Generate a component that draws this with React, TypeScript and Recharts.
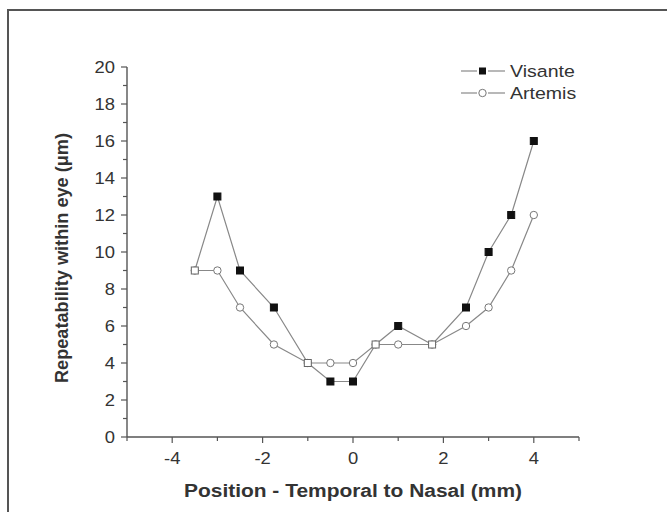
import { LineChart, Line, XAxis, YAxis, Label } from 'recharts';

const positions = [-3.5, -3, -2.5, -1.75, -1, -0.5, 0, 0.5, 1, 1.75, 2.5, 3, 3.5, 4];
const visante = [9, 13, 9, 7, 4, 3, 3, 5, 6, 5, 7, 10, 12, 16];
const artemis = [9, 9, 7, 5, 4, 4, 4, 5, 5, 5, 6, 7, 9, 12];

const xTicks = [-5, -4, -3, -2, -1, 0, 1, 2, 3, 4, 5];
const yTicks = [0, 1, 2, 3, 4, 5, 6, 7, 8, 9, 10, 11, 12, 13, 14, 15, 16, 17, 18, 19, 20];

const data = positions.map((x, i) => ({ x, visante: visante[i], artemis: artemis[i] }));

const FONT = '"Liberation Sans", Arial, sans-serif';
const AXIS = '#555';
const LINE = '#888';
const TEXT = '#333';
// the source figure's lettering is a bit wider than Arial
const STRETCH = 1.15;

const XTick = ({ x, y, payload }: any) => {
  const major = payload.value % 2 === 0;
  return (
    <g>
      <line x1={x} y1={y} x2={x} y2={y + (major ? 6 : 4)} stroke={AXIS} strokeWidth={1.2} />
      {major && (
        <text
          transform={`translate(${x} ${y + 27}) scale(${STRETCH} 1)`}
          textAnchor="middle"
          fontSize={16}
          fill={TEXT}
          fontFamily={FONT}
        >
          {payload.value}
        </text>
      )}
    </g>
  );
};

const YTick = ({ x, y, payload }: any) => {
  const major = payload.value % 2 === 0;
  return (
    <g>
      <line x1={x} y1={y} x2={x - (major ? 6 : 4)} y2={y} stroke={AXIS} strokeWidth={1.2} />
      {major && (
        <text
          transform={`translate(${x - 12} ${y + 6}) scale(${STRETCH} 1)`}
          textAnchor="end"
          fontSize={16}
          fill={TEXT}
          fontFamily={FONT}
        >
          {payload.value}
        </text>
      )}
    </g>
  );
};

const VisanteDot = (props: any) => {
  const { cx, cy, index } = props;
  const shared = visante[index] === artemis[index];
  return (
    <rect
      key={`v-${index}`}
      x={cx - 3.5}
      y={cy - 3.5}
      width={7}
      height={7}
      fill={shared ? '#fff' : '#111'}
      stroke={shared ? '#666' : '#111'}
      strokeWidth={1}
    />
  );
};

const ArtemisDot = (props: any) => {
  const { cx, cy, index } = props;
  return <circle key={`a-${index}`} cx={cx} cy={cy} r={3.7} fill="#fff" stroke="#777" strokeWidth={1} />;
};

const LegendBox = () => (
  <svg width={130} height={50} style={{ position: 'absolute', left: 461, top: 59 }}>
    <line x1={0} y1={12} x2={16} y2={12} stroke={LINE} strokeWidth={1.2} />
    <rect x={18} y={8.5} width={7} height={7} fill="#111" />
    <line x1={27} y1={12} x2={44} y2={12} stroke={LINE} strokeWidth={1.2} />
    <text transform={`translate(49 18) scale(${STRETCH} 1)`} fontSize={17} fill={TEXT} fontFamily={FONT}>Visante</text>
    <line x1={0} y1={34} x2={16} y2={34} stroke={LINE} strokeWidth={1.2} />
    <circle cx={21.5} cy={34} r={3.7} fill="#fff" stroke="#777" strokeWidth={1} />
    <line x1={27} y1={34} x2={44} y2={34} stroke={LINE} strokeWidth={1.2} />
    <text transform={`translate(49 40) scale(${STRETCH} 1)`} fontSize={17} fill={TEXT} fontFamily={FONT}>Artemis</text>
  </svg>
);

export default function App() {
  return (
    <div style={{ position: 'absolute', left: 0, top: 0, width: 667, height: 512, background: '#fff' }}>
      <div
        style={{
          position: 'absolute',
          left: 7,
          top: 9,
          width: 660,
          height: 503,
          borderTop: '2px solid #555',
          borderLeft: '2px solid #555',
        }}
      />
      <div style={{ position: 'absolute', left: 0, top: 0 }}>
        <LineChart width={667} height={512} data={data} margin={{ top: 67, right: 88, bottom: 45, left: 67 }}>
          <XAxis
            dataKey="x"
            type="number"
            domain={[-5, 5]}
            ticks={xTicks}
            interval={0}
            tickSize={0}
            tickMargin={0}
            tickLine={false}
            tick={<XTick />}
            height={30}
            axisLine={{ stroke: AXIS, strokeWidth: 1.4 }}
          >
            <Label
              content={({ viewBox }: any) => (
                <text
                  x={viewBox.x + viewBox.width / 2}
                  y={viewBox.y + 60}
                  textAnchor="middle"
                  fontSize={18}
                  fontWeight="bold"
                  fill={TEXT}
                  fontFamily={FONT}
                  textLength={338}
                  lengthAdjust="spacingAndGlyphs"
                >
                  Position - Temporal to Nasal (mm)
                </text>
              )}
            />
          </XAxis>
          <YAxis
            type="number"
            domain={[0, 20]}
            ticks={yTicks}
            interval={0}
            tickSize={0}
            tickMargin={0}
            tickLine={false}
            tick={<YTick />}
            width={60}
            axisLine={{ stroke: AXIS, strokeWidth: 1.4 }}
          >
            <Label
              content={({ viewBox }: any) => {
                const cx = 62;
                const cy = viewBox.y + viewBox.height / 2 + 6;
                return (
                  <text
                    x={cx}
                    y={cy}
                    transform={`rotate(-90 ${cx} ${cy})`}
                    textAnchor="middle"
                    dominantBaseline="central"
                    fontSize={18}
                    fontWeight="bold"
                    fill={TEXT}
                    fontFamily={FONT}
                    textLength={250}
                    lengthAdjust="spacingAndGlyphs"
                  >
                    Repeatability within eye (μm)
                  </text>
                );
              }}
            />
          </YAxis>
          <Line
            type="linear"
            dataKey="artemis"
            stroke={LINE}
            strokeWidth={1.2}
            dot={<ArtemisDot />}
            activeDot={false}
            isAnimationActive={false}
          />
          <Line
            type="linear"
            dataKey="visante"
            stroke={LINE}
            strokeWidth={1.2}
            dot={<VisanteDot />}
            activeDot={false}
            isAnimationActive={false}
          />
        </LineChart>
      </div>
      <LegendBox />
    </div>
  );
}
